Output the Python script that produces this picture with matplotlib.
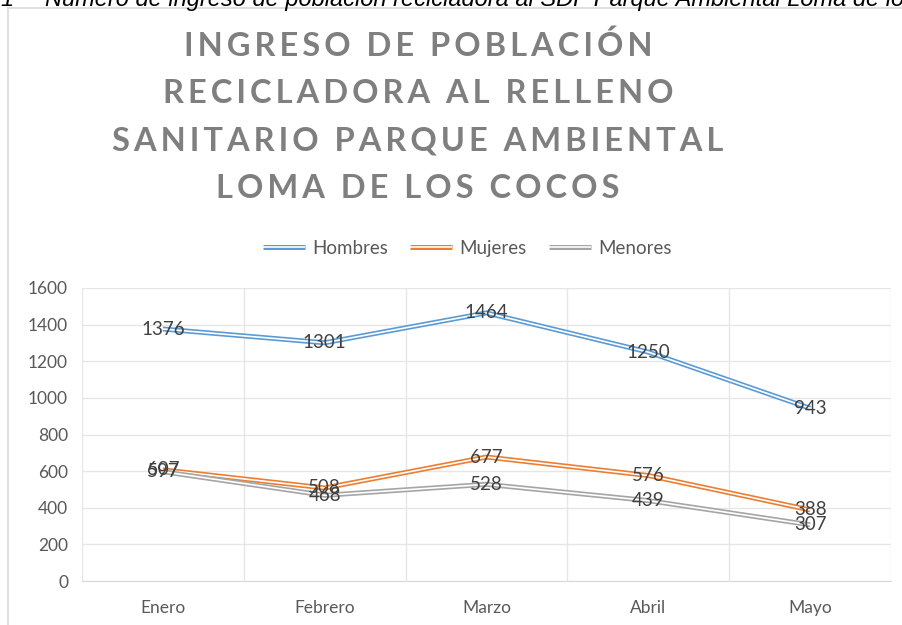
import matplotlib.pyplot as plt
from matplotlib.patches import Rectangle
from matplotlib.lines import Line2D

plt.rcParams['font.family'] = ['Lato', 'DejaVu Sans']

meses = ['Enero', 'Febrero', 'Marzo', 'Abril', 'Mayo']
hombres = [1376, 1301, 1464, 1250, 943]
mujeres = [607, 508, 677, 576, 388]
menores = [597, 468, 528, 439, 307]

series = [('Hombres', hombres, '#5B9BD5'),
          ('Mujeres', mujeres, '#ED7D31'),
          ('Menores', menores, '#A5A5A5')]

titulo = ['INGRESO DE POBLACIÓN', 'RECICLADORA AL RELLENO',
          'SANITARIO PARQUE AMBIENTAL', 'LOMA DE LOS COCOS']

W, H = 902, 625
fig = plt.figure(figsize=(W / 100, H / 100), dpi=100)

# marco del area del grafico
fig.patches.append(Rectangle((8 / W, -0.1), 1.1, 1 - 8 / H + 0.1,
                             transform=fig.transFigure, fill=False,
                             edgecolor='#D9D9D9', lw=1.2))

# leyenda de la figura (cortada arriba)
fig.text(0.0, 1 - 6 / H, '1', fontsize=17, style='italic',
         family='Liberation Sans', va='baseline', ha='left')
fig.text(45 / W, 1 - 6 / H,
         'Número de ingreso de población recicladora al SDF Parque Ambiental Loma de los Cocos',
         fontsize=17, style='italic', family='Liberation Sans', va='baseline', ha='left')

# titulo con espaciado entre letras
sp = '\u200a\u200a'
for i, linea in enumerate(titulo):
    fig.text(418 / W, 1 - (46 + 47.5 * i) / H, sp.join(linea),
             ha='center', va='center', fontsize=23.5, fontweight='bold',
             color='#7F7F7F')

ax = fig.add_axes([82 / W, 1 - 581 / H, (891 - 82) / W, (581 - 288) / H])

x = list(range(len(meses)))
for nombre, vals, color in series:
    ax.plot(x, vals, color=color, lw=3.6, solid_capstyle='butt', zorder=3)
    ax.plot(x, vals, color='white', lw=1.2, solid_capstyle='butt', zorder=3)
    for xi, v in zip(x, vals):
        ax.text(xi, v, str(v), ha='center', va='center', fontsize=13.5,
                color='#404040', zorder=4)

ax.set_xlim(-0.5, len(meses) - 0.5)
ax.set_ylim(0, 1600)
ax.set_yticks(range(0, 1601, 200))
ax.set_xticks(x)
ax.set_xticklabels(meses)
ax.set_xticks([i - 0.5 for i in range(len(meses) + 1)], minor=True)
ax.grid(axis='y', color='#E6E6E6', lw=1)
ax.grid(axis='x', which='minor', color='#E6E6E6', lw=1)
ax.tick_params(axis='both', which='both', length=0, labelsize=12.5,
               colors='#595959', pad=10)
ax.tick_params(axis='x', pad=14)
for s in ['top', 'right', 'left']:
    ax.spines[s].set_visible(False)
ax.spines['bottom'].set_color('#D9D9D9')

# leyenda superior (linea doble + texto)
ley_x = [263, 410, 549]
ley_y = 1 - 247 / H
for x0, (nombre, vals, color) in zip(ley_x, series):
    xs = [x0 / W, (x0 + 42) / W]
    fig.add_artist(Line2D(xs, [ley_y, ley_y], color=color, lw=3.6,
                          solid_capstyle='butt'))
    fig.add_artist(Line2D(xs, [ley_y, ley_y], color='white', lw=1.2,
                          solid_capstyle='butt'))
    fig.text((x0 + 49) / W, ley_y, nombre, fontsize=13.5, color='#595959',
             ha='left', va='center_baseline')

fig.savefig('out.png', dpi=100)
